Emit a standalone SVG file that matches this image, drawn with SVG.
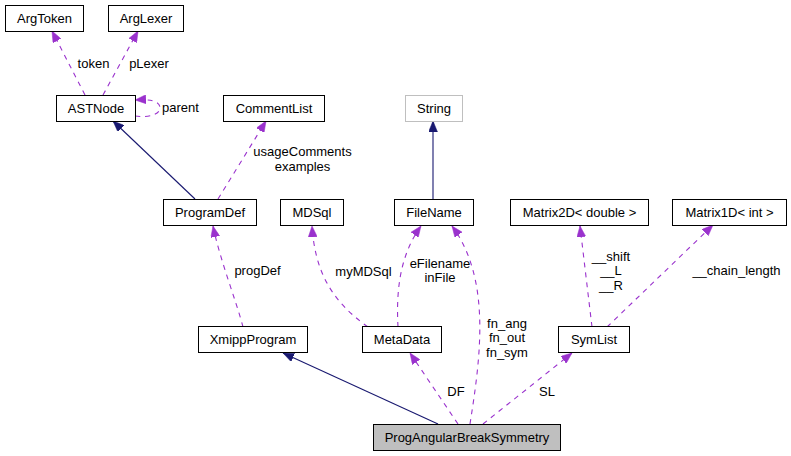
<svg xmlns="http://www.w3.org/2000/svg" width="791" height="456" viewBox="0 0 791 456">
<style>
text{font-family:"Liberation Sans",Arial,sans-serif;font-size:13px;fill:#000;text-anchor:middle}
.n rect{fill:#fff;stroke:#000;stroke-width:1}
.e{fill:none;stroke-width:1.1}
.u{stroke:#9a32cd;stroke-dasharray:5,5;marker-end:url(#ap)}
.i{stroke:#191970;marker-end:url(#an)}
</style>
<defs>
<marker id="ap" markerUnits="userSpaceOnUse" viewBox="0 0 11 9" refX="11" refY="4.5" markerWidth="11" markerHeight="9" orient="auto"><path d="M0,0 L11,4.5 L0,9 z" fill="#9a32cd" stroke="#9a32cd" stroke-width="0.5"/></marker>
<marker id="an" markerUnits="userSpaceOnUse" viewBox="0 0 11 9" refX="11" refY="4.5" markerWidth="11" markerHeight="9" orient="auto"><path d="M0,0 L11,4.5 L0,9 z" fill="#191970" stroke="#191970" stroke-width="0.5"/></marker>
</defs>
<g id="connectors">
<path class="e u" d="M85,95 L52,31"/>
<path class="e u" d="M103,95 L138,31"/>
<path class="e u" d="M135,116 C150,118 160,114 160,108 C160,101 150,99 135,100"/>
<path class="e i" d="M195,199 L113,121"/>
<path class="e u" d="M218,199 L266,121"/>
<path class="e u" d="M243,327 C236,300 220,260 213,226"/>
<path class="e u" d="M368,327 C330,300 315,270 312,226"/>
<path class="e u" d="M398,327 C396,290 400,255 421,226"/>
<path class="e u" d="M470,424 C480,360 492,280 452,226"/>
<path class="e i" d="M433,199 L433,121"/>
<path class="e u" d="M592,327 L580,226"/>
<path class="e u" d="M607,327 L713,225"/>
<path class="e i" d="M438,424 L283,353"/>
<path class="e u" d="M458,424 L410,353"/>
<path class="e u" d="M483,424 L572,353"/>
<text x="93.5" y="67.5">token</text>
<text x="149" y="67.5">pLexer</text>
<text x="180.5" y="111.5">parent</text>
<text x="302.5" y="156">usageComments</text>
<text x="302.5" y="170.5">examples</text>
<text x="257.5" y="274.5">progDef</text>
<text x="363.5" y="275.5">myMDSql</text>
<text x="440" y="267.5">eFilename</text>
<text x="440" y="282">inFile</text>
<text x="507" y="327.5">fn_ang</text>
<text x="507" y="342">fn_out</text>
<text x="507" y="356.5">fn_sym</text>
<text x="611" y="260.5">__shift</text>
<text x="611" y="275">__L</text>
<text x="611" y="289.5">__R</text>
<text x="736.5" y="274.5">__chain_length</text>
<text x="456" y="396">DF</text>
<text x="547" y="396">SL</text>
</g>
<g id="ArgToken" class="n"><rect x="5.5" y="5.5" width="78" height="26"/><text x="44.5" y="23">ArgToken</text></g>
<g id="ArgLexer" class="n"><rect x="108.5" y="5.5" width="75" height="26"/><text x="146" y="23">ArgLexer</text></g>
<g id="ASTNode" class="n"><rect x="56.5" y="95.5" width="79" height="26"/><text x="96" y="113">ASTNode</text></g>
<g id="CommentList" class="n"><rect x="223.5" y="95.5" width="101" height="26"/><text x="274" y="113">CommentList</text></g>
<g id="String" class="n"><rect x="405.5" y="95.5" width="57" height="26" style="stroke:#bfbfbf"/><text x="434" y="113">String</text></g>
<g id="ProgramDef" class="n"><rect x="163.5" y="199.5" width="93" height="26"/><text x="210" y="217">ProgramDef</text></g>
<g id="MDSql" class="n"><rect x="280.5" y="199.5" width="63" height="26"/><text x="312" y="217">MDSql</text></g>
<g id="FileName" class="n"><rect x="394.5" y="199.5" width="79" height="26"/><text x="434" y="217">FileName</text></g>
<g id="Matrix2D" class="n"><rect x="510.5" y="199.5" width="138" height="26"/><text x="579.5" y="217">Matrix2D&lt; double &gt;</text></g>
<g id="Matrix1D" class="n"><rect x="672.5" y="199.5" width="114" height="26"/><text x="729.5" y="217">Matrix1D&lt; int &gt;</text></g>
<g id="XmippProgram" class="n"><rect x="198.5" y="326.5" width="109" height="26"/><text x="253" y="344">XmippProgram</text></g>
<g id="MetaData" class="n"><rect x="362.5" y="326.5" width="79" height="26"/><text x="402" y="344">MetaData</text></g>
<g id="SymList" class="n"><rect x="558.5" y="326.5" width="71" height="26"/><text x="594" y="344">SymList</text></g>
<g id="ProgAngularBreakSymmetry" class="n"><rect x="373.5" y="424.5" width="187" height="26" style="fill:#bfbfbf"/><text x="467" y="442">ProgAngularBreakSymmetry</text></g>
</svg>
